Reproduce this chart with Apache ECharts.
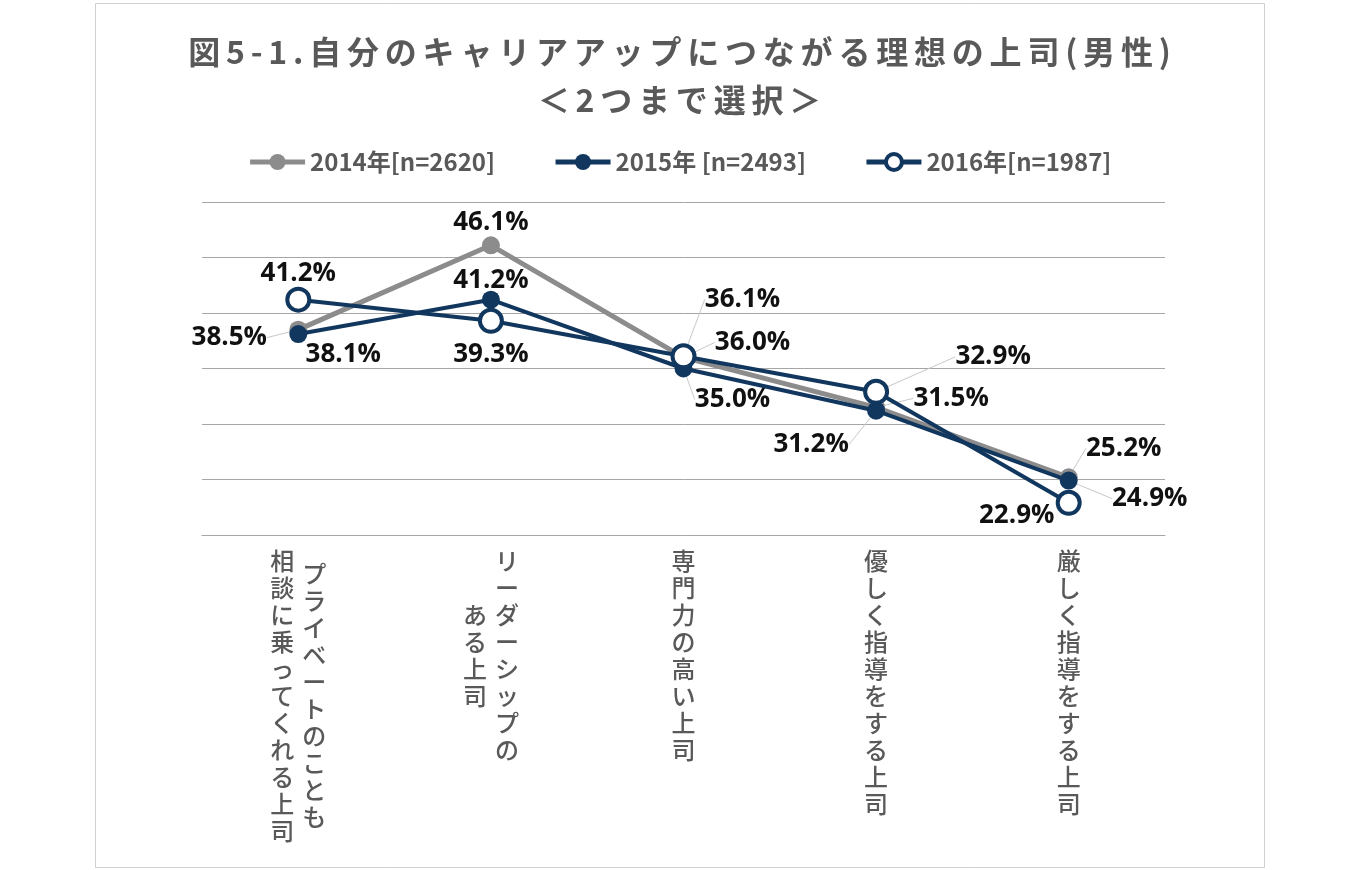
<!DOCTYPE html>
<html><head><meta charset="utf-8">
<script src="https://cdn.jsdelivr.net/npm/echarts@6/dist/echarts.min.js"></script>
<style>html,body{margin:0;padding:0;background:#fff}#c{width:1359px;height:870px}</style>
</head><body><div id="c"></div>
<script>
// ---- data ----
const titleLines = ['図5-1.自分のキャリアアップにつながる理想の上司(男性)', '＜2つまで選択＞'];
const categories = [
  'プライベートのことも相談に乗ってくれる上司',
  'リーダーシップのある上司',
  '専門力の高い上司',
  '優しく指導をする上司',
  '厳しく指導をする上司'
];
// vertical label columns (right column first, as in Japanese vertical writing)
const categoryColumns = [
  ['プライベートのことも', '相談に乗ってくれる上司'],
  ['リーダーシップの', 'ある上司'],
  ['専門力の高い上司'],
  ['優しく指導をする上司'],
  ['厳しく指導をする上司']
];
const seriesNames = ['2014年[n=2620]', '2015年 [n=2493]', '2016年[n=1987]'];
const values2014 = [38.5, 46.1, 36.0, 31.5, 25.2];
const values2015 = [38.1, 41.2, 35.0, 31.2, 24.9];
const values2016 = [41.2, 39.3, 36.1, 32.9, 22.9];
const yTicks = [20, 25, 30, 35, 40, 45, 50];

// ---- label placement (style) ----
const labelOffsets = [
  [[-69, 8], [0, -23], [69, -15], [75, -9], [55, -29]],
  [[45, 21], [0, -19], [49, 31], [-65, 34], [81, 18]],
  [[0, -26], [0, 34], [59, -57], [117, -35], [-52, 13]]
];
const leaders = [
  [true, false, true, true, true],
  [false, false, true, true, true],
  [false, false, true, true, false]
];

const LH = 27;
const AXF = {fontSize: 24, fontWeight: 500, color: '#595959', fontFamily: 'Noto Sans CJK JP', lineHeight: LH};
function colText(col, offsetLines, style) {
  let s = '';
  if (offsetLines > 0) s += '{sp' + Math.round(offsetLines * 2) + '| }\n';
  s += Array.from(col).map(ch => '{' + style + '|' + ch + '}').join('\n');
  return s;
}
const rich = {
  r: Object.assign({width: 56, align: 'right'}, AXF),
  l: Object.assign({width: 56, align: 'left'}, AXF),
  c: Object.assign({align: 'center'}, AXF)
};
for (let k = 1; k <= 20; k++) rich['sp' + k] = {lineHeight: LH * k / 2, height: LH * k / 2, fontSize: 1};

function rightLabel(v, i) {
  const cols = categoryColumns[i];
  if (cols.length === 1) return colText(cols[0], 0, 'c');
  const maxLen = Math.max(...cols.map(c => Array.from(c).length));
  const len = Array.from(cols[0]).length;
  return colText(cols[0], (maxLen - len) / 2, 'r');
}
function leftLabel(v, i) {
  const cols = categoryColumns[i];
  if (cols.length === 1) return '';
  const maxLen = Math.max(...cols.map(c => Array.from(c).length));
  const len = Array.from(cols[1]).length;
  return colText(cols[1], (maxLen - len) / 2, 'l');
}

// spaced title text (letter spacing via rich segments)
function spaced(str) {
  return Array.from(str).map(ch => '{t|' + ch + '}').join('');
}

const colors = ['#8c8c8c', '#12375f', '#12375f'];
const allValues = [values2014, values2015, values2016];

function makeSeries(si) {
  const base = {
    name: seriesNames[si],
    type: 'line',
    z: 2 + si,
    data: allValues[si].map((v, i) => ({value: v, labelLine: {show: leaders[si][i]}})),
    lineStyle: {color: colors[si], width: si === 0 ? 5 : 4},
    itemStyle: {color: colors[si]},
    symbol: 'circle',
    symbolSize: 18,
    label: {
      show: true, position: 'inside',
      formatter: p => p.value.toFixed(1) + '%',
      fontFamily: 'Open Sans', fontWeight: 'bold', fontSize: 26, color: '#111'
    },
    labelLine: {show: false, lineStyle: {color: '#c8c8c8', width: 1}},
    labelLayout: p => { const o = labelOffsets[si][p.dataIndex]; return {dx: o[0], dy: o[1]}; },
    emphasis: {disabled: true},
    animation: false
  };
  if (si === 2) {
    base.symbolSize = 22;
    base.itemStyle = {color: '#fff', borderColor: colors[2], borderWidth: 4};
  }
  return base;
}

const chart = echarts.init(document.getElementById('c'), null, {renderer: 'canvas'});
chart.setOption({
  animation: false,
  backgroundColor: '#fff',
  title: {
    text: titleLines.map(spaced).join('\n'),
    left: 'center', top: 23,
    textStyle: {
      rich: {t: {fontFamily: 'Noto Sans CJK JP', fontWeight: 'bold', fontSize: 32, lineHeight: 48, color: '#595959', padding: [0, 2.9, 0, 2.9]}}
    }
  },
  legend: {
    top: 145, left: 'center', itemGap: 58, itemWidth: 55, itemHeight: 20,
    lineStyle: {width: 5},
    data: [
      {name: seriesNames[0], itemStyle: {borderWidth: 0}},
      {name: seriesNames[1], itemStyle: {borderWidth: 0}},
      {name: seriesNames[2], itemStyle: {borderWidth: 4, borderColor: colors[2], color: '#fff'}}
    ],
    textStyle: {fontFamily: 'Noto Sans CJK JP', fontWeight: 'bold', fontSize: 24, color: '#595959'}
  },
  graphic: [{
    type: 'rect', silent: true,
    shape: {x: 95.5, y: 3.5, width: 1169, height: 864},
    style: {fill: 'none', stroke: '#d0d0d0', lineWidth: 1}
  }],
  grid: {left: 202, right: 194, top: 202, bottom: 335},
  xAxis: [{
    type: 'category', data: categories, position: 'bottom',
    axisLine: {show: true, lineStyle: {color: '#a6a6a6', width: 1}},
    axisTick: {show: false},
    axisLabel: {interval: 0, margin: 12, verticalAlign: 'top', formatter: rightLabel, rich: rich}
  }, {
    type: 'category', data: categories, position: 'bottom',
    axisLine: {show: false}, axisTick: {show: false},
    axisLabel: {interval: 0, margin: 12, verticalAlign: 'top', formatter: leftLabel, rich: rich}
  }],
  yAxis: {
    type: 'value', min: yTicks[0], max: yTicks[yTicks.length - 1], interval: 5,
    axisLabel: {show: false}, axisLine: {show: false}, axisTick: {show: false},
    splitLine: {lineStyle: {color: '#a6a6a6', width: 1}}
  },
  series: [makeSeries(0), makeSeries(1), makeSeries(2)]
});
</script></body></html>
